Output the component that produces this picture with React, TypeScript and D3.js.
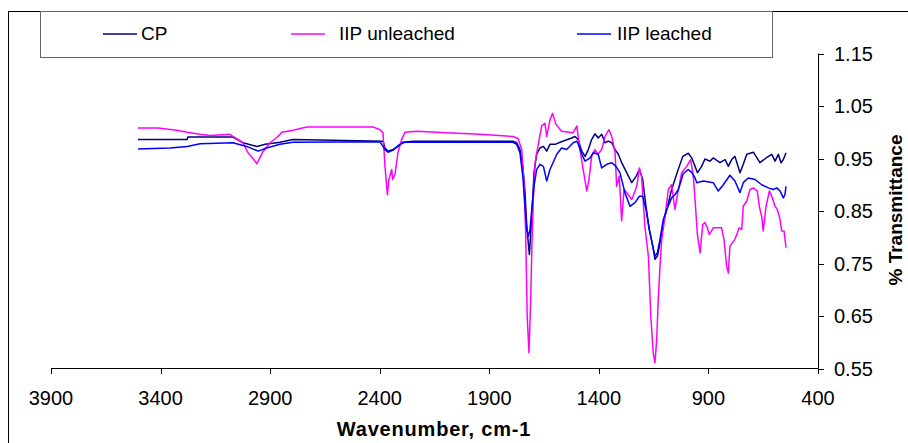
import React from "react";
import * as d3 from "d3";

const xTicks = [3900, 3400, 2900, 2400, 1900, 1400, 900, 400];
const yTicks = [0.55, 0.65, 0.75, 0.85, 0.95, 1.05, 1.15];
const seriesNames = ["CP", "IIP unleached", "IIP leached"];
const seriesColors = ["#000080", "#FF00FF", "#0000FF"];

// [wavenumber cm-1, transmittance]
const cpData: [number, number][] = [
  [3503,0.986],[3279,0.986],[3275,0.991],[3070,0.991],[3024,0.980],[2960,0.973],[2923,0.977],[2887,0.979],[2855,0.981],[2796,0.986],[2385,0.983],[2376,0.970],[2362,0.964],[2339,0.967],[2307,0.977],[2294,0.981],[2248,0.983],[1792,0.983],[1775,0.980],[1760,0.967],[1747,0.935],[1737,0.885],[1729,0.821],[1722,0.789],[1717,0.767],[1711,0.808],[1702,0.872],[1696,0.923],[1684,0.958],[1669,0.970],[1653,0.973],[1638,0.964],[1623,0.977],[1600,0.977],[1577,0.981],[1524,0.989],[1509,0.992],[1494,0.986],[1478,0.964],[1463,0.954],[1448,0.967],[1433,0.986],[1418,0.997],[1403,0.989],[1387,0.996],[1372,0.980],[1357,0.983],[1341,0.980],[1326,0.967],[1311,0.958],[1296,0.942],[1273,0.923],[1250,0.904],[1230,0.916],[1215,0.929],[1200,0.910],[1185,0.859],[1170,0.815],[1154,0.783],[1144,0.758],[1133,0.764],[1121,0.789],[1106,0.827],[1090,0.853],[1068,0.891],[1053,0.910],[1033,0.935],[1017,0.954],[992,0.960],[976,0.951],[961,0.935],[950,0.923],[931,0.935],[916,0.949],[893,0.945],[878,0.951],[847,0.942],[824,0.948],[809,0.935],[794,0.948],[779,0.954],[756,0.923],[741,0.939],[725,0.958],[695,0.962],[665,0.942],[637,0.951],[611,0.958],[596,0.945],[581,0.958],[569,0.942],[558,0.948],[546,0.961]
];

const unleachedData: [number, number][] = [
  [3503,1.008],[3412,1.008],[3325,1.004],[3279,1.000],[3220,0.996],[3174,0.994],[3083,0.996],[3070,0.992],[3024,0.980],[3001,0.961],[2978,0.950],[2960,0.940],[2946,0.952],[2933,0.963],[2901,0.980],[2869,0.990],[2846,1.000],[2796,1.004],[2732,1.010],[2431,1.010],[2399,1.005],[2385,0.999],[2376,0.935],[2365,0.881],[2358,0.910],[2345,0.929],[2341,0.910],[2330,0.920],[2317,0.961],[2300,0.986],[2285,1.000],[2231,1.002],[2094,0.999],[1942,0.996],[1792,0.992],[1769,0.988],[1752,0.967],[1742,0.904],[1734,0.809],[1727,0.650],[1719,0.580],[1711,0.681],[1706,0.777],[1699,0.872],[1691,0.942],[1678,0.973],[1661,1.012],[1646,1.017],[1638,0.992],[1623,1.024],[1611,1.036],[1596,1.015],[1570,1.002],[1518,0.999],[1500,1.012],[1491,0.980],[1474,0.935],[1455,0.888],[1445,0.910],[1433,0.954],[1418,0.967],[1404,0.958],[1387,0.967],[1372,0.992],[1354,1.005],[1341,0.992],[1326,0.961],[1319,0.897],[1307,0.916],[1296,0.831],[1285,0.891],[1273,0.885],[1250,0.872],[1227,0.897],[1215,0.932],[1205,0.916],[1190,0.821],[1174,0.764],[1163,0.650],[1152,0.580],[1144,0.561],[1136,0.605],[1129,0.681],[1121,0.745],[1113,0.796],[1098,0.840],[1083,0.891],[1068,0.900],[1053,0.853],[1037,0.891],[1022,0.923],[999,0.935],[981,0.948],[969,0.916],[961,0.872],[951,0.808],[938,0.770],[926,0.824],[916,0.828],[905,0.818],[896,0.805],[878,0.818],[840,0.818],[829,0.796],[817,0.745],[809,0.732],[802,0.783],[779,0.796],[759,0.818],[748,0.815],[741,0.859],[725,0.869],[710,0.891],[695,0.894],[677,0.888],[668,0.859],[657,0.840],[650,0.812],[637,0.859],[622,0.888],[611,0.878],[596,0.859],[586,0.853],[573,0.834],[566,0.812],[555,0.812],[546,0.780]
];

const leachedData: [number, number][] = [
  [3503,0.968],[3357,0.970],[3279,0.973],[3220,0.978],[3070,0.980],[3007,0.973],[2954,0.964],[2916,0.970],[2855,0.977],[2796,0.981],[2399,0.982],[2376,0.967],[2362,0.962],[2339,0.966],[2307,0.977],[2285,0.981],[1792,0.981],[1775,0.977],[1760,0.961],[1747,0.916],[1737,0.859],[1729,0.815],[1722,0.802],[1714,0.815],[1706,0.853],[1696,0.897],[1684,0.929],[1669,0.939],[1653,0.935],[1638,0.907],[1623,0.929],[1592,0.958],[1570,0.970],[1547,0.967],[1517,0.980],[1500,0.983],[1494,0.977],[1478,0.958],[1463,0.945],[1440,0.951],[1425,0.961],[1403,0.958],[1387,0.932],[1364,0.939],[1341,0.942],[1322,0.935],[1304,0.923],[1281,0.885],[1258,0.859],[1235,0.866],[1215,0.878],[1200,0.878],[1185,0.853],[1170,0.815],[1154,0.783],[1144,0.764],[1133,0.770],[1121,0.796],[1106,0.834],[1090,0.853],[1068,0.875],[1053,0.881],[1037,0.891],[1015,0.921],[992,0.929],[976,0.923],[961,0.913],[953,0.904],[923,0.907],[878,0.904],[855,0.888],[832,0.900],[802,0.918],[779,0.907],[756,0.885],[741,0.904],[718,0.913],[687,0.910],[657,0.900],[627,0.894],[604,0.891],[588,0.894],[573,0.888],[558,0.875],[551,0.881],[546,0.897]
];

const FONT = "'Liberation Sans', Arial, sans-serif";

export default function App() {
  const W = 908, H = 443;
  const x = d3.scaleLinear().domain([3900, 400]).range([51, 818]);
  const y = d3.scaleLinear().domain([0.55, 1.15]).range([368.5, 53.5]);
  const line = d3.line<[number, number]>().x(d => x(d[0])).y(d => y(d[1]));
  const all = [cpData, unleachedData, leachedData];
  const swatchX = [103, 291, 577];
  const textX = [141, 339, 617];

  return (
    <svg width={W} height={H} style={{ position: "absolute", left: 0, top: 0, background: "#fff" }} fontFamily={FONT}>
      <rect x={0} y={0} width={W} height={H} fill="#fff" />
      <rect x={8.5} y={11.5} width={W + 10} height={H + 10} fill="none" stroke="#000" strokeWidth={1} />
      {/* legend */}
      <rect x={40.5} y={11.5} width={732} height={46} fill="none" stroke="#666" strokeWidth={1} />
      {seriesNames.map((n, i) => (
        <g key={n}>
          <line x1={swatchX[i]} x2={swatchX[i] + 34} y1={34} y2={34} stroke={seriesColors[i]} strokeWidth={1.5} />
          <text x={textX[i]} y={40} fontSize={19} fill="#000">{n}</text>
        </g>
      ))}
      {/* lines */}
      {all.map((d, i) => (
        <path key={i} d={line(d) || ""} fill="none" stroke={seriesColors[i]} strokeWidth={1.5} strokeLinejoin="round" />
      ))}
      {/* x axis */}
      <line x1={x(3900)} x2={x(400)} y1={368.5} y2={368.5} stroke="#000" strokeWidth={1} />
      {xTicks.map(t => (
        <g key={t}>
          <line x1={Math.round(x(t)) + 0.5} x2={Math.round(x(t)) + 0.5} y1={368.5} y2={374} stroke="#000" />
          <text x={x(t)} y={405} fontSize={20} textAnchor="middle" fill="#000">{t}</text>
        </g>
      ))}
      {/* y axis */}
      <line x1={818.5} x2={818.5} y1={y(1.15)} y2={y(0.55)} stroke="#000" strokeWidth={1} />
      {yTicks.map(t => (
        <g key={t}>
          <line x1={818.5} x2={824} y1={Math.round(y(t)) + 0.5} y2={Math.round(y(t)) + 0.5} stroke="#000" />
          <text x={834} y={y(t) + 7} fontSize={20} fill="#000">{t.toFixed(2)}</text>
        </g>
      ))}
      <text x={434} y={436} fontSize={20} fontWeight="bold" textAnchor="middle" letterSpacing={0.8}>Wavenumber, cm-1</text>
      <text transform="translate(902,210) rotate(-90)" fontSize={19} fontWeight="bold" textAnchor="middle">% Transmittance</text>
    </svg>
  );
}
